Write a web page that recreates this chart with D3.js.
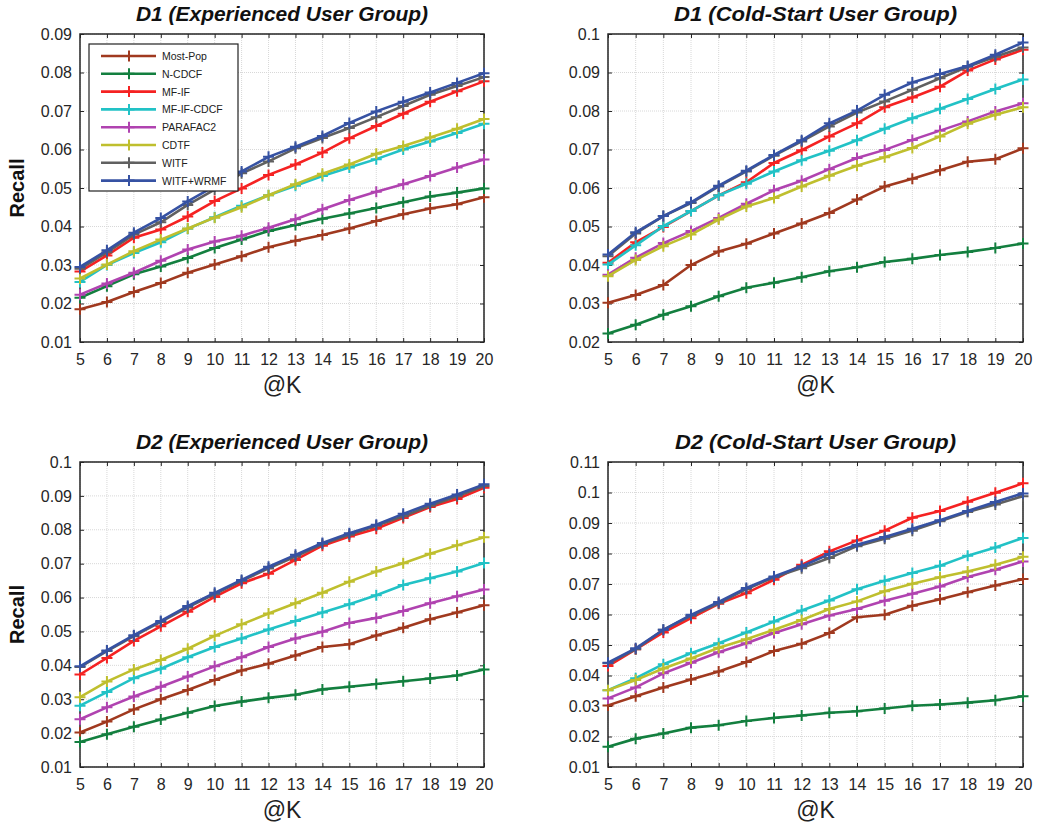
<!DOCTYPE html>
<html>
<head>
<meta charset="utf-8">
<script src="https://d3js.org/d3.v7.min.js"></script>
<style>
  body { margin: 0; background: #fff; }
  svg { font-family: "Liberation Sans", Arial, sans-serif; }
</style>
</head>
<body>
<svg id="chart" width="1042" height="829"></svg>
<script>
// @K values on the x axis
var ks = [5, 6, 7, 8, 9, 10, 11, 12, 13, 14, 15, 16, 17, 18, 19, 20];

var methods = ["Most-Pop", "N-CDCF", "MF-IF", "MF-IF-CDCF", "PARAFAC2", "CDTF", "WITF", "WITF+WRMF"];

// rows follow the order of `methods`
var d1Exp = [
  [0.0185, 0.0204, 0.0230, 0.0253, 0.0280, 0.0301, 0.0323, 0.0346, 0.0363, 0.0378, 0.0395, 0.0414, 0.0432, 0.0447, 0.0458, 0.0476],
  [0.0215, 0.0245, 0.0276, 0.0296, 0.0318, 0.0344, 0.0366, 0.0388, 0.0404, 0.0420, 0.0434, 0.0448, 0.0463, 0.0478, 0.0488, 0.0499],
  [0.0283, 0.0325, 0.0371, 0.0392, 0.0426, 0.0466, 0.0499, 0.0534, 0.0561, 0.0592, 0.0629, 0.0661, 0.0693, 0.0724, 0.0751, 0.0777],
  [0.0256, 0.0300, 0.0331, 0.0359, 0.0394, 0.0424, 0.0454, 0.0481, 0.0506, 0.0531, 0.0553, 0.0575, 0.0600, 0.0621, 0.0643, 0.0667],
  [0.0223, 0.0252, 0.0280, 0.0311, 0.0340, 0.0361, 0.0376, 0.0397, 0.0419, 0.0445, 0.0469, 0.0490, 0.0510, 0.0531, 0.0553, 0.0574],
  [0.0265, 0.0301, 0.0336, 0.0366, 0.0395, 0.0423, 0.0450, 0.0481, 0.0510, 0.0537, 0.0561, 0.0589, 0.0609, 0.0631, 0.0654, 0.0679],
  [0.0290, 0.0333, 0.0379, 0.0411, 0.0456, 0.0496, 0.0538, 0.0569, 0.0603, 0.0630, 0.0656, 0.0684, 0.0713, 0.0742, 0.0765, 0.0788],
  [0.0295, 0.0338, 0.0384, 0.0422, 0.0465, 0.0505, 0.0543, 0.0581, 0.0607, 0.0635, 0.0669, 0.0699, 0.0724, 0.0748, 0.0773, 0.0798]
];

var d1Cold = [
  [0.0302, 0.0322, 0.0348, 0.0400, 0.0435, 0.0455, 0.0482, 0.0508, 0.0535, 0.0570, 0.0604, 0.0624, 0.0646, 0.0668, 0.0675, 0.0703],
  [0.0222, 0.0245, 0.0271, 0.0293, 0.0319, 0.0341, 0.0354, 0.0368, 0.0384, 0.0394, 0.0408, 0.0416, 0.0426, 0.0434, 0.0444, 0.0456],
  [0.0406, 0.0459, 0.0499, 0.0540, 0.0581, 0.0615, 0.0665, 0.0698, 0.0734, 0.0768, 0.0810, 0.0835, 0.0863, 0.0905, 0.0934, 0.0959],
  [0.0401, 0.0451, 0.0501, 0.0540, 0.0581, 0.0611, 0.0643, 0.0672, 0.0697, 0.0724, 0.0754, 0.0781, 0.0806, 0.0831, 0.0857, 0.0882],
  [0.0375, 0.0419, 0.0457, 0.0488, 0.0522, 0.0559, 0.0594, 0.0619, 0.0649, 0.0678, 0.0699, 0.0725, 0.0749, 0.0773, 0.0799, 0.0820],
  [0.0371, 0.0413, 0.0449, 0.0479, 0.0518, 0.0552, 0.0574, 0.0604, 0.0632, 0.0658, 0.0680, 0.0704, 0.0734, 0.0767, 0.0790, 0.0810],
  [0.0423, 0.0482, 0.0527, 0.0561, 0.0604, 0.0643, 0.0684, 0.0721, 0.0760, 0.0796, 0.0825, 0.0855, 0.0885, 0.0915, 0.0941, 0.0965],
  [0.0427, 0.0485, 0.0527, 0.0563, 0.0606, 0.0645, 0.0686, 0.0724, 0.0768, 0.0801, 0.0842, 0.0874, 0.0896, 0.0917, 0.0946, 0.0978]
];

var d2Exp = [
  [0.0202, 0.0234, 0.0270, 0.0300, 0.0327, 0.0357, 0.0385, 0.0405, 0.0429, 0.0454, 0.0462, 0.0488, 0.0511, 0.0536, 0.0556, 0.0577],
  [0.0174, 0.0197, 0.0219, 0.0240, 0.0260, 0.0280, 0.0293, 0.0304, 0.0313, 0.0329, 0.0337, 0.0345, 0.0353, 0.0361, 0.0370, 0.0388],
  [0.0373, 0.0422, 0.0472, 0.0515, 0.0558, 0.0602, 0.0642, 0.0670, 0.0711, 0.0753, 0.0780, 0.0803, 0.0835, 0.0867, 0.0891, 0.0924],
  [0.0281, 0.0321, 0.0362, 0.0390, 0.0424, 0.0454, 0.0479, 0.0506, 0.0531, 0.0556, 0.0580, 0.0607, 0.0637, 0.0657, 0.0677, 0.0702],
  [0.0241, 0.0276, 0.0308, 0.0337, 0.0367, 0.0397, 0.0424, 0.0454, 0.0479, 0.0499, 0.0525, 0.0540, 0.0560, 0.0583, 0.0604, 0.0624],
  [0.0306, 0.0352, 0.0388, 0.0416, 0.0449, 0.0487, 0.0521, 0.0553, 0.0583, 0.0614, 0.0647, 0.0677, 0.0701, 0.0729, 0.0754, 0.0778],
  [0.0395, 0.0442, 0.0486, 0.0528, 0.0571, 0.0610, 0.0649, 0.0686, 0.0721, 0.0758, 0.0785, 0.0812, 0.0840, 0.0871, 0.0899, 0.0929],
  [0.0397, 0.0444, 0.0489, 0.0531, 0.0575, 0.0614, 0.0652, 0.0691, 0.0726, 0.0761, 0.0790, 0.0815, 0.0847, 0.0877, 0.0904, 0.0934]
];

var d2Cold = [
  [0.0302, 0.0332, 0.0361, 0.0387, 0.0413, 0.0444, 0.0480, 0.0504, 0.0539, 0.0591, 0.0599, 0.0629, 0.0650, 0.0673, 0.0695, 0.0716],
  [0.0166, 0.0193, 0.0210, 0.0229, 0.0237, 0.0251, 0.0261, 0.0269, 0.0278, 0.0283, 0.0292, 0.0301, 0.0305, 0.0311, 0.0319, 0.0332],
  [0.0431, 0.0486, 0.0541, 0.0588, 0.0635, 0.0670, 0.0714, 0.0763, 0.0807, 0.0843, 0.0875, 0.0917, 0.0939, 0.0970, 0.0999, 0.1030],
  [0.0352, 0.0391, 0.0437, 0.0473, 0.0506, 0.0541, 0.0577, 0.0613, 0.0646, 0.0683, 0.0711, 0.0736, 0.0760, 0.0793, 0.0820, 0.0851],
  [0.0325, 0.0361, 0.0407, 0.0442, 0.0476, 0.0506, 0.0539, 0.0568, 0.0597, 0.0618, 0.0645, 0.0668, 0.0692, 0.0723, 0.0747, 0.0774],
  [0.0352, 0.0385, 0.0423, 0.0456, 0.0491, 0.0519, 0.0550, 0.0582, 0.0618, 0.0643, 0.0676, 0.0701, 0.0722, 0.0741, 0.0763, 0.0789],
  [0.0440, 0.0486, 0.0550, 0.0596, 0.0637, 0.0683, 0.0722, 0.0752, 0.0785, 0.0824, 0.0848, 0.0875, 0.0906, 0.0936, 0.0961, 0.0988],
  [0.0442, 0.0489, 0.0550, 0.0599, 0.0641, 0.0687, 0.0725, 0.0758, 0.0798, 0.0829, 0.0854, 0.0881, 0.0909, 0.0939, 0.0969, 0.0997]
];

var colors = ["#a0391f", "#137f3f", "#f52222", "#22c2c6", "#b043b0", "#bfbf2e", "#606060", "#3652a3"];

var svg = d3.select("#chart");

var panels = [
  {title: "D1 (Experienced User Group)", tw: 292, data: d1Exp, y: [0.01, 0.09], x0: 80, x1: 484, y0: 34, y1: 342, ylab: true, legend: true},
  {title: "D1 (Cold-Start User Group)", tw: 283, data: d1Cold, y: [0.02, 0.1], x0: 608, x1: 1023, y0: 34, y1: 342},
  {title: "D2 (Experienced User Group)", tw: 292, data: d2Exp, y: [0.01, 0.1], x0: 80, x1: 484, y0: 462, y1: 767, ylab: true},
  {title: "D2 (Cold-Start User Group)", tw: 281, data: d2Cold, y: [0.01, 0.11], x0: 608, x1: 1023, y0: 462, y1: 767}
];

function plusPath(s) {
  return "M" + (-s) + ",0H" + s + "M0," + (-s) + "V" + s;
}

panels.forEach(function(p) {
  var x = d3.scaleLinear().domain([5, 20]).range([p.x0, p.x1]);
  var y = d3.scaleLinear().domain(p.y).range([p.y1, p.y0]);
  var yTicks = d3.range(Math.round(p.y[0] * 100), Math.round(p.y[1] * 100) + 1).map(function(v) { return v / 100; });

  var g = svg.append("g");

  // grid
  g.append("g").selectAll("line.gx").data(ks).enter().append("line")
    .attr("x1", function(d) { return x(d); }).attr("x2", function(d) { return x(d); })
    .attr("y1", p.y0).attr("y2", p.y1)
    .attr("stroke", "#d8d8d8").attr("stroke-width", 1).attr("stroke-dasharray", "1,1");
  g.append("g").selectAll("line.gy").data(yTicks).enter().append("line")
    .attr("y1", function(d) { return y(d); }).attr("y2", function(d) { return y(d); })
    .attr("x1", p.x0).attr("x2", p.x1)
    .attr("stroke", "#d8d8d8").attr("stroke-width", 1).attr("stroke-dasharray", "1,1");

  // axes, ticks pointing inwards on all four sides
  var fmt = function(d) { return d3.format("")(+d.toFixed(2)); };
  var ax = [
    [d3.axisBottom(x).tickValues(ks).tickSizeInner(-4).tickSizeOuter(0).tickPadding(12), "translate(0," + p.y1 + ")"],
    [d3.axisTop(x).tickValues(ks).tickSizeInner(-4).tickSizeOuter(0).tickFormat(""), "translate(0," + p.y0 + ")"],
    [d3.axisLeft(y).tickValues(yTicks).tickSizeInner(-4).tickSizeOuter(0).tickPadding(8).tickFormat(fmt), "translate(" + p.x0 + ",0)"],
    [d3.axisRight(y).tickValues(yTicks).tickSizeInner(-4).tickSizeOuter(0).tickFormat(""), "translate(" + p.x1 + ",0)"]
  ];
  ax.forEach(function(a) {
    var ga = g.append("g").attr("transform", a[1]).call(a[0]);
    ga.select(".domain").remove();
    ga.selectAll("line").attr("stroke", "#262626");
    ga.selectAll("text").attr("fill", "#262626").style("font-size", "16px")
      .style("font-family", "'Liberation Sans', Arial, sans-serif");
  });

  g.append("rect").attr("x", p.x0).attr("y", p.y0)
    .attr("width", p.x1 - p.x0).attr("height", p.y1 - p.y0)
    .attr("fill", "none").attr("stroke", "#262626").attr("stroke-width", 1.5);

  // series
  var line = d3.line().x(function(d, i) { return x(ks[i]); }).y(function(d) { return y(d); });
  p.data.forEach(function(vals, m) {
    var sg = g.append("g");
    sg.append("path").datum(vals).attr("d", line)
      .attr("fill", "none").attr("stroke", colors[m]).attr("stroke-width", 2.6);
    sg.selectAll("path.mk").data(vals).enter().append("path")
      .attr("class", "mk")
      .attr("transform", function(d, i) { return "translate(" + x(ks[i]) + "," + y(d) + ")"; })
      .attr("d", plusPath(5.5))
      .attr("stroke", colors[m]).attr("stroke-width", 2);
  });

  // titles and labels
  g.append("text").attr("x", (p.x0 + p.x1) / 2).attr("y", p.y0 - 13)
    .attr("text-anchor", "middle").style("font-size", "21px")
    .attr("textLength", p.tw).attr("lengthAdjust", "spacingAndGlyphs")
    .style("font-weight", "bold").style("font-style", "italic").attr("fill", "#111")
    .text(p.title);
  g.append("text").attr("x", (p.x0 + p.x1) / 2).attr("y", p.y1 + 51)
    .attr("text-anchor", "middle").style("font-size", "23px").attr("fill", "#222")
    .text("@K");
  if (p.ylab) {
    g.append("text")
      .attr("transform", "translate(24," + ((p.y0 + p.y1) / 2) + ") rotate(-90)")
      .attr("text-anchor", "middle").style("font-size", "20px").style("font-weight", "bold")
      .attr("fill", "#111").text("Recall");
  }

  if (p.legend) {
    var lg = g.append("g").attr("transform", "translate(89,44)");
    lg.append("rect").attr("width", 149).attr("height", 147)
      .attr("fill", "#fff").attr("stroke", "#222").attr("stroke-width", 1.2);
    methods.forEach(function(name, m) {
      var row = lg.append("g").attr("transform", "translate(0," + (12 + m * 17.8) + ")");
      row.append("line").attr("x1", 12).attr("x2", 67)
        .attr("stroke", colors[m]).attr("stroke-width", 2.6);
      row.append("path").attr("transform", "translate(40,0)").attr("d", plusPath(5.5))
        .attr("stroke", colors[m]).attr("stroke-width", 2);
      row.append("text").attr("x", 73).attr("y", 4).style("font-size", "10.5px")
        .attr("fill", "#222").text(name);
    });
  }
});
</script>
</body>
</html>
